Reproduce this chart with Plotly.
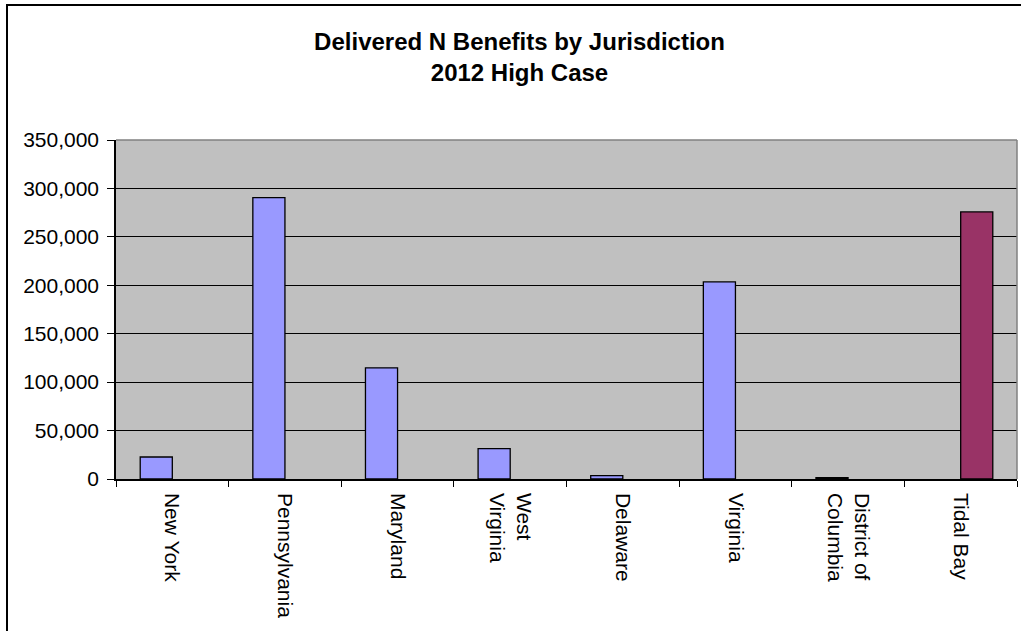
import plotly.graph_objects as go

# Delivered nitrogen benefits per jurisdiction (2012 high case)
jurisdictions = ["New York", "Pennsylvania", "Maryland", "West<br>Virginia",
                 "Delaware", "Virginia", "District of<br>Columbia", "Tidal Bay"]
state_values = [22700, 290500, 114800, 31300, 3500, 203500, 1500, None]
tidal_values = [None, None, None, None, None, None, None, 275700]

y_ticks = [0, 50000, 100000, 150000, 200000, 250000, 300000, 350000]
y_tick_labels = ["0", "50,000", "100,000", "150,000", "200,000",
                 "250,000", "300,000", "350,000"]

W, H = 1021, 631
L, R, T, B = 116, 4, 140, 152
pw, ph = W - L - R, H - T - B

def px(x):
    return (x - L) / pw

def py(y):
    return (H - B - y) / ph

fig = go.Figure()
fig.add_bar(x=jurisdictions, y=state_values, marker_color="#9999FF",
            marker_line_color="black", marker_line_width=1.3, name="States")
fig.add_bar(x=jurisdictions, y=tidal_values, marker_color="#993366",
            marker_line_color="black", marker_line_width=1.3, name="Tidal Bay")

font = "Liberation Sans, Arial, sans-serif"
fig.update_layout(
    width=W, height=H,
    margin=dict(l=L, r=R, t=T, b=B),
    paper_bgcolor="white",
    plot_bgcolor="#C0C0C0",
    barmode="group", bargap=0.43, bargroupgap=0,
    showlegend=False,
    font=dict(family=font, size=21, color="black"),
    title=dict(text="<b>Delivered N Benefits by Jurisdiction<br>2012 High Case</b>",
               x=519.5 / W, xanchor="center", y=1 - 50 / H, yanchor="top",
               font=dict(family=font, size=24, color="black")),
    xaxis=dict(type="category", tickangle=90, tickson="boundaries",
               ticks="outside", ticklen=6, tickcolor="black", tickwidth=1,
               showline=True, linecolor="black", linewidth=1.5,
               showgrid=False, tickfont=dict(size=21), ticklabelstandoff=8),
    yaxis=dict(range=[0, 350000], tickvals=y_ticks, ticktext=y_tick_labels,
               ticks="outside", ticklen=7, tickcolor="black", tickwidth=1,
               showline=True, linecolor="black", linewidth=1.5,
               showgrid=True, gridcolor="black", gridwidth=1,
               zeroline=False, tickfont=dict(size=21), ticklabelstandoff=4),
    shapes=[
        # plot-area border on the top and right
        dict(type="line", xref="paper", yref="paper", x0=0, x1=1, y0=1, y1=1,
             line=dict(color="#808080", width=1.5), layer="above"),
        dict(type="line", xref="paper", yref="paper", x0=1, x1=1, y0=0, y1=1,
             line=dict(color="#808080", width=1.5), layer="above"),
        # chart frame
        dict(type="rect", xref="paper", yref="paper",
             x0=px(7), x1=px(1030), y0=py(640), y1=py(5),
             line=dict(color="black", width=2), fillcolor="rgba(0,0,0,0)"),
    ],
)

fig.write_html("out.html")
